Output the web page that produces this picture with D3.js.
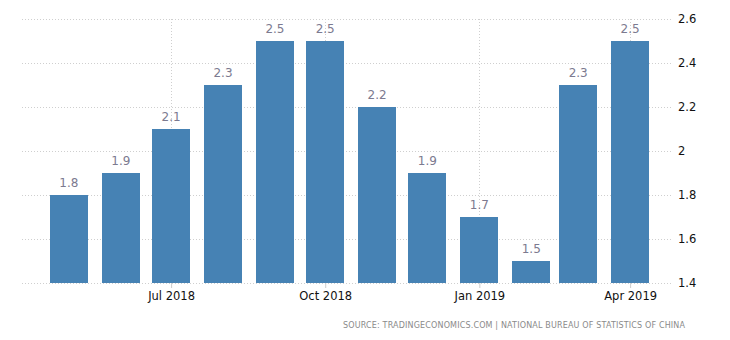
<!DOCTYPE html>
<html>
<head>
<meta charset="utf-8">
<script src="https://cdn.jsdelivr.net/npm/d3@7"></script>
<style>
  html, body { margin: 0; padding: 0; background: #fff; }
  svg { display: block; }
</style>
</head>
<body>
<svg id="chart" width="730" height="340"></svg>
<script>
// Monthly values, May 2018 – Apr 2019
const months = ["2018-05", "2018-06", "2018-07", "2018-08", "2018-09", "2018-10",
                "2018-11", "2018-12", "2019-01", "2019-02", "2019-03", "2019-04"];
const values = [1.8, 1.9, 2.1, 2.3, 2.5, 2.5, 2.2, 1.9, 1.7, 1.5, 2.3, 2.5];
const yTicks = [1.4, 1.6, 1.8, 2, 2.2, 2.4, 2.6];
const xTickMonths = ["2018-07", "2018-10", "2019-01", "2019-04"];
const sourceText = "SOURCE: TRADINGECONOMICS.COM | NATIONAL BUREAU OF STATISTICS OF CHINA";

const parse = d3.timeParse("%Y-%m");
const data = months.map((m, i) => ({ date: parse(m), value: values[i] }));

const svg = d3.select("#chart");
const plotLeft = 22, plotRight = 672, plotTop = 19, plotBottom = 283;
const barW = 38;

const x = d3.scaleTime()
  .domain([new Date(2018, 3, 3), new Date(2019, 3, 26)])
  .range([plotLeft, plotRight]);
const y = d3.scaleLinear().domain([1.4, 2.6]).range([plotBottom, plotTop]);

const gridColor = "#cfcfcf";

// horizontal grid
svg.append("g").selectAll("line").data(yTicks).join("line")
  .attr("x1", plotLeft).attr("x2", plotRight)
  .attr("y1", d => Math.round(y(d)) + 0.5).attr("y2", d => Math.round(y(d)) + 0.5)
  .attr("stroke", gridColor).attr("stroke-dasharray", "1,2");

// vertical grid at the labelled months
const xTicks = xTickMonths.map(parse);
svg.append("g").selectAll("line").data(xTicks).join("line")
  .attr("x1", d => Math.round(x(d)) + 0.5).attr("x2", d => Math.round(x(d)) + 0.5)
  .attr("y1", plotTop).attr("y2", plotBottom)
  .attr("stroke", gridColor).attr("stroke-dasharray", "1,2");

// bars
svg.append("g").selectAll("rect").data(data).join("rect")
  .attr("x", d => Math.round(x(d.date) - barW / 2))
  .attr("width", barW)
  .attr("y", d => Math.round(y(d.value)))
  .attr("height", d => plotBottom - Math.round(y(d.value)))
  .attr("fill", "#4682b4");

// value labels
svg.append("g").selectAll("text").data(data).join("text")
  .attr("x", d => x(d.date))
  .attr("y", d => y(d.value) - 8)
  .attr("text-anchor", "middle")
  .attr("font-family", "DejaVu Sans, sans-serif")
  .attr("font-size", 12)
  .attr("fill", "#7c7a90")
  .text(d => d3.format(".1f")(d.value));

// x axis
const xAxis = svg.append("g")
  .attr("transform", `translate(0,${plotBottom})`)
  .call(d3.axisBottom(x).tickValues(xTicks).tickFormat(d3.timeFormat("%b %Y")).tickSize(5).tickPadding(4));
xAxis.select(".domain").remove();
xAxis.selectAll(".tick line").attr("stroke", "#cccccc");
xAxis.selectAll(".tick text")
  .attr("font-family", "DejaVu Sans, sans-serif")
  .attr("font-size", 11.5)
  .attr("fill", "#111");

// y axis on the right
const yAxis = svg.append("g")
  .attr("transform", `translate(${plotRight},0)`)
  .call(d3.axisRight(y).tickValues(yTicks).tickFormat(d3.format("~g")).tickSize(0).tickPadding(6));
yAxis.select(".domain").remove();
yAxis.selectAll(".tick text")
  .attr("font-family", "DejaVu Sans, sans-serif")
  .attr("font-size", 11.5)
  .attr("fill", "#111");

// source line
svg.append("text")
  .attr("x", 685).attr("y", 328)
  .attr("text-anchor", "end")
  .attr("font-family", "DejaVu Sans, sans-serif")
  .attr("font-size", 8)
  .attr("fill", "#8a8a8a")
  .attr("textLength", 342)
  .attr("lengthAdjust", "spacing")
  .text(sourceText);
</script>
</body>
</html>
